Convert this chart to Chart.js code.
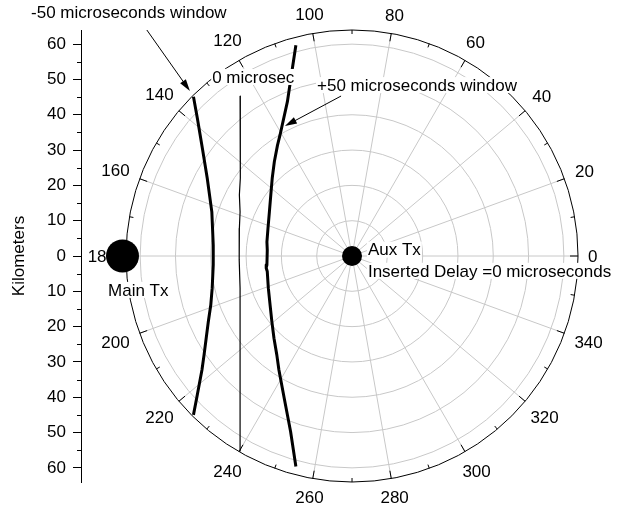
<!DOCTYPE html>
<html>
<head>
<meta charset="utf-8">
<title>Inserted delay windows</title>
<script src="https://cdn.jsdelivr.net/npm/chart.js@4/dist/chart.umd.min.js"></script>
<style>
  html, body { margin: 0; background: #fff; overflow: hidden; }
  canvas { display: block; }
</style>
</head>
<body>
<canvas id="delayChart" width="626" height="509"></canvas>
<script>
const FONT = '"Liberation Sans", Arial, sans-serif';

// window curves, km east (x) / north (y) of the aux transmitter
const minus50X = [-44.9, -43.8, -42.3, -41.0, -39.7, -39.3, -39.3, -39.6, -40.0, -40.7, -41.3, -41.9, -42.5, -44.0, -44.9];
const minus50Y = [45.1, 39.0, 30.0, 22.0, 12.5, 3.1, -2.5, -9.1, -13.9, -18.6, -23.3, -28.0, -32.3, -40.3, -45.0];

const zeroX = [-31.7, -31.7, -31.5, -31.7, -31.9, -31.7, -31.9, -32.0, -31.9, -31.7, -31.7, -31.7, -31.7, -31.7];
const zeroY = [45.3, 40.5, 26.7, 22.0, 17.3, 12.5, 7.8, 3.1, -1.1, -9.1, -18.6, -28.0, -40.8, -55.2];

const plus50X = [-15.9, -16.9, -18.3, -20.4, -21.1, -22.0, -22.6, -23.0, -23.4, -23.8, -24.1, -24.0, -24.1, -24.3, -24.0, -23.7, -23.2, -22.7, -22.1, -21.3, -20.7, -19.2, -17.4, -15.9];
const plus50Y = [59.7, 53.1, 43.7, 34.2, 31.4, 26.7, 22.0, 17.3, 12.5, 7.8, 4.0, 1.7, -2.5, -3.4, -4.4, -9.1, -13.9, -18.6, -23.3, -28.0, -32.3, -40.3, -49.7, -59.6];

// transmitters
const txNames = ['Main Tx', 'Aux Tx'];
const txX = [-65, 0];
const txY = [0, 0];

// axes
const kmTicks = [-60, -50, -40, -30, -20, -10, 0, 10, 20, 30, 40, 50, 60];
const kmMinor = [-55, -45, -35, -25, -15, -5, 5, 15, 25, 35, 45, 55];
const ringKm = [10, 20, 30, 40, 50, 60];
const outerKm = 64;
const leftKm = -76.75;
const angleLabels = [0, 20, 40, 60, 80, 100, 120, 140, 160, 180, 200, 220, 240, 260, 280, 300, 320, 340];
const angleMinorStep = 10;

// text notes (left edge / middle, in km) with optional arrows
const notes = [
  { text: '-50 microseconds window', x: -90.9, y: 69.0, from: [-58.1, 64.0], to: [-45.9, 46.7] },
  { text: '0 microsec', x: -39.6, y: 50.7 },
  { text: '+50 microseconds window', x: -9.9, y: 48.4, from: [-3.1, 45.3], to: [-19.0, 36.8] },
  { text: 'Aux Tx', x: 4.5, y: 1.8 },
  { text: 'Inserted Delay =0 microseconds', x: 4.5, y: -4.2 },
  { text: 'Main Tx', x: -69.1, y: -9.6 }
];

const pairs = (xs, ys) => xs.map((v, i) => ({ x: v, y: ys[i] }));

const polarGrid = {
  id: 'polarGrid',
  // keep km the same size on both axes
  afterLayout(chart) {
    const { x, y } = chart.scales;
    const k = (y.bottom - y.top) / (y.max - y.min);
    x.min = leftKm;
    x.max = leftKm + (x.right - x.left) / k;
    x.configure();
  },
  beforeDatasetsDraw(chart) {
    const { ctx, scales: { x, y }, chartArea } = chart;
    const cx = x.getPixelForValue(0), cy = y.getPixelForValue(0);
    const px = km => Math.abs(y.getPixelForValue(km) - cy);
    const R = px(outerKm);
    const rad = a => a * Math.PI / 180;

    ctx.save();
    ctx.lineWidth = 1;
    ctx.strokeStyle = '#c8c8c8';
    ringKm.forEach(r => {
      ctx.beginPath();
      ctx.arc(cx, cy, px(r), 0, Math.PI * 2);
      ctx.stroke();
    });
    angleLabels.forEach(a => {
      const t = rad(a);
      ctx.beginPath();
      ctx.moveTo(cx, cy);
      ctx.lineTo(cx + R * Math.cos(t), cy - R * Math.sin(t));
      ctx.stroke();
    });

    // rim with inward ticks
    ctx.strokeStyle = '#000';
    ctx.beginPath();
    ctx.arc(cx, cy, R, 0, Math.PI * 2);
    ctx.stroke();
    for (let a = 0; a < 360; a += angleMinorStep) {
      const t = rad(a), len = a % 20 === 0 ? 8 : 4;
      ctx.beginPath();
      ctx.moveTo(cx + R * Math.cos(t), cy - R * Math.sin(t));
      ctx.lineTo(cx + (R - len) * Math.cos(t), cy - (R - len) * Math.sin(t));
      ctx.stroke();
    }

    ctx.font = '17px ' + FONT;
    ctx.fillStyle = '#000';
    ctx.textAlign = 'center';
    ctx.textBaseline = 'middle';
    angleLabels.forEach(a => {
      const t = rad(a), s = String(a);
      const w = ctx.measureText(s).width;
      const r = R + 10 + Math.abs(Math.cos(t)) * w / 2 + Math.abs(Math.sin(t)) * 7;
      ctx.fillText(s, cx + r * Math.cos(t), cy - r * Math.sin(t) + 1);
    });

    // minor ticks on the km axis
    const left = chartArea.left;
    kmMinor.forEach(v => {
      const py = Math.round(y.getPixelForValue(v)) + 0.5;
      ctx.beginPath();
      ctx.moveTo(left - 4, py);
      ctx.lineTo(left, py);
      ctx.stroke();
    });
    ctx.restore();
  },
  afterDatasetsDraw(chart) {
    const { ctx, scales: { x, y } } = chart;
    ctx.save();
    ctx.font = '17px ' + FONT;
    ctx.textBaseline = 'middle';
    ctx.textAlign = 'left';
    notes.forEach(n => {
      const tx = x.getPixelForValue(n.x), ty = y.getPixelForValue(n.y);
      const w = ctx.measureText(n.text).width;
      ctx.fillStyle = '#fff';
      ctx.fillRect(tx - 1, ty - 8, w + 2, 16);
      ctx.fillStyle = '#000';
      ctx.fillText(n.text, tx, ty + 1);
      if (n.from) {
        const x1 = x.getPixelForValue(n.from[0]), y1 = y.getPixelForValue(n.from[1]);
        const x2 = x.getPixelForValue(n.to[0]), y2 = y.getPixelForValue(n.to[1]);
        const ang = Math.atan2(y2 - y1, x2 - x1);
        ctx.strokeStyle = '#000';
        ctx.lineWidth = 1;
        ctx.beginPath();
        ctx.moveTo(x1, y1);
        ctx.lineTo(x2 - 10 * Math.cos(ang), y2 - 10 * Math.sin(ang));
        ctx.stroke();
        ctx.beginPath();
        ctx.moveTo(x2, y2);
        ctx.lineTo(x2 - 12 * Math.cos(ang) + 3.5 * Math.sin(ang), y2 - 12 * Math.sin(ang) - 3.5 * Math.cos(ang));
        ctx.lineTo(x2 - 12 * Math.cos(ang) - 3.5 * Math.sin(ang), y2 - 12 * Math.sin(ang) + 3.5 * Math.cos(ang));
        ctx.closePath();
        ctx.fill();
      }
    });
    ctx.restore();
  }
};

const lineStyle = { showLine: true, borderColor: '#000', pointRadius: 0, pointHoverRadius: 0, borderJoinStyle: 'round', tension: 0 };

new Chart(document.getElementById('delayChart'), {
  type: 'scatter',
  data: {
    datasets: [
      { label: txNames[0], data: [{ x: txX[0], y: txY[0] }], pointRadius: 16.5, backgroundColor: '#000', borderWidth: 0 },
      { label: txNames[1], data: [{ x: txX[1], y: txY[1] }], pointRadius: 10, backgroundColor: '#000', borderWidth: 0 },
      { label: '-50 microseconds window', data: pairs(minus50X, minus50Y), borderWidth: 3, ...lineStyle },
      { label: '0 microsec', data: pairs(zeroX, zeroY), borderWidth: 1.2, ...lineStyle },
      { label: '+50 microseconds window', data: pairs(plus50X, plus50Y), borderWidth: 3, ...lineStyle }
    ]
  },
  options: {
    responsive: false,
    animation: false,
    layout: { padding: { top: 30, bottom: 27, left: 0, right: 3 } },
    plugins: { legend: { display: false }, tooltip: { enabled: false } },
    scales: {
      x: { type: 'linear', display: false, min: leftKm, max: -leftKm },
      y: {
        type: 'linear',
        min: -outerKm,
        max: outerKm,
        afterBuildTicks: s => { s.ticks = kmTicks.map(v => ({ value: v })); },
        afterFit: s => { s.width = 81; },
        border: { display: true, color: '#000', width: 1 },
        grid: { drawOnChartArea: false, drawTicks: true, tickLength: 8, tickColor: '#000' },
        ticks: {
          color: '#000',
          autoSkip: false,
          padding: 7,
          font: { family: FONT, size: 17 },
          callback: v => String(Math.abs(v))
        },
        title: {
          display: true,
          text: 'Kilometers',
          color: '#000',
          font: { family: FONT, size: 17 },
          padding: { top: 9, bottom: 0 }
        }
      }
    }
  },
  plugins: [polarGrid]
});
</script>
</body>
</html>
